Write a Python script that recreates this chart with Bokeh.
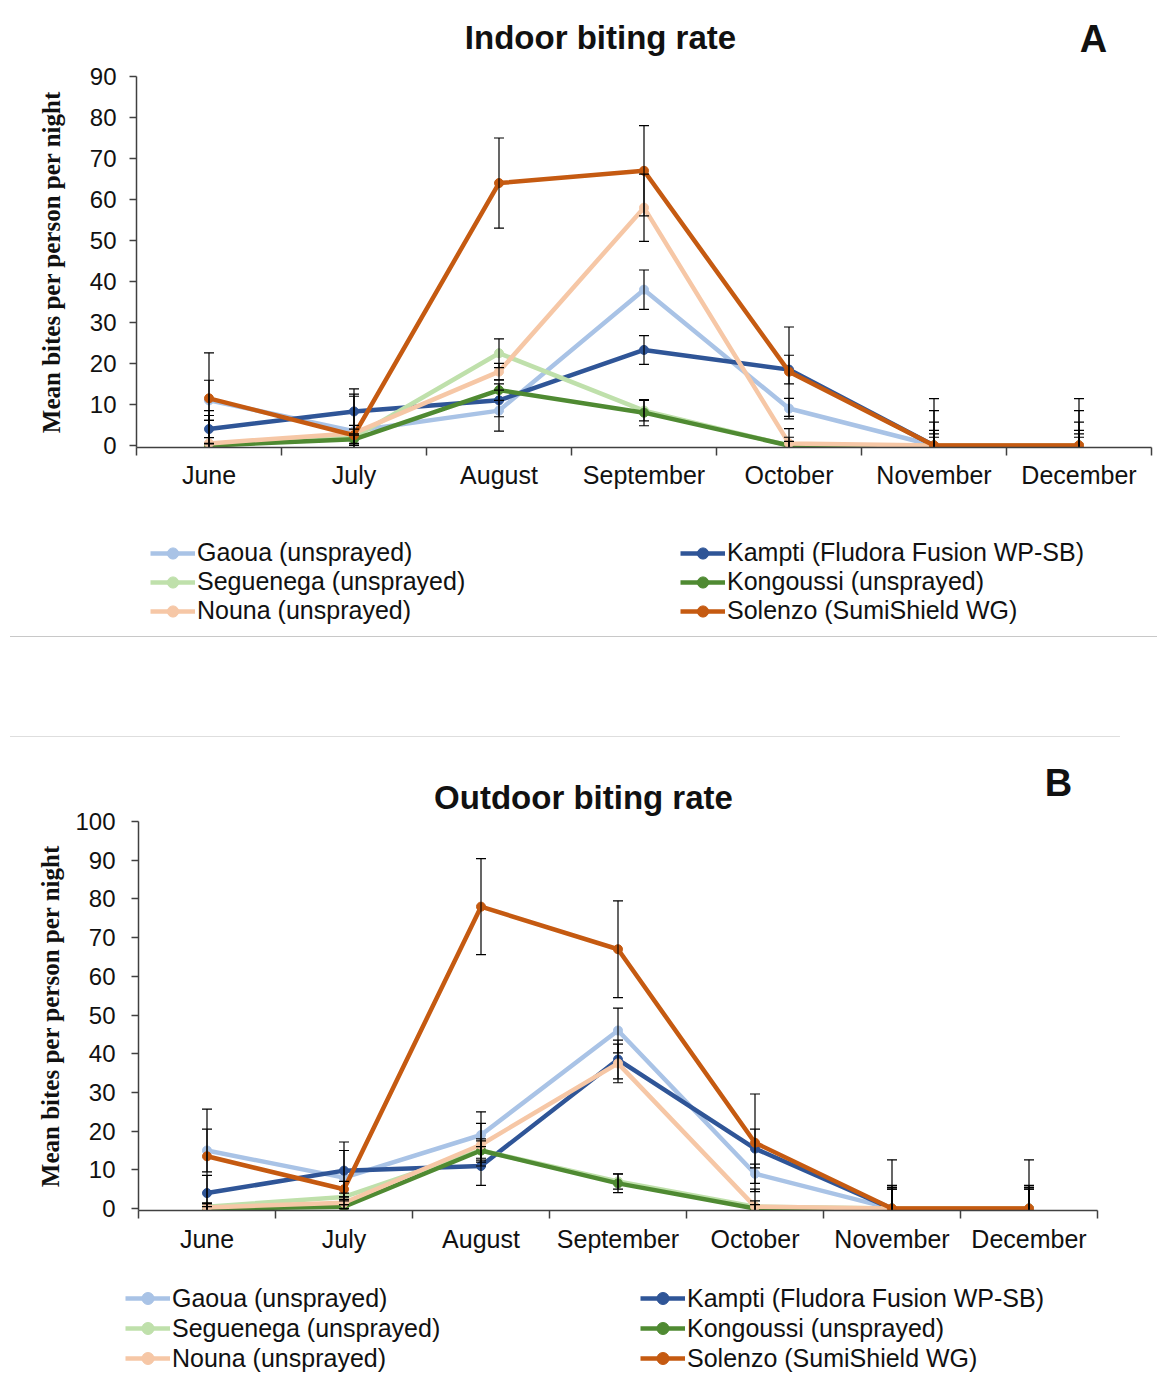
from bokeh.plotting import figure
from bokeh.models import (Range1d, FixedTicker, Legend, LegendItem, Label, Div)
from bokeh.embed import file_html
from bokeh.resources import INLINE

# ---------------- data ----------------
months = ["June", "July", "August", "September", "October", "November", "December"]
series_names = ["Gaoua (unsprayed)", "Kampti (Fludora Fusion WP-SB)",
                "Seguenega (unsprayed)", "Kongoussi (unsprayed)",
                "Nouna (unsprayed)", "Solenzo (SumiShield WG)"]

# Indoor biting rate (panel A)
gaoua_in = [11, 3.5, 8.5, 38, 9, 0, 0]
kampti_in = [4, 8.3, 11, 23.3, 18.5, 0, 0]
seguenega_in = [0, 2, 22.5, 8.5, 0, 0, 0]
kongoussi_in = [0, 1.5, 13.5, 8, 0, 0, 0]
nouna_in = [0.5, 3, 18, 58, 0.5, 0, 0]
solenzo_in = [11.5, 2.5, 64, 67, 18, 0, 0]

gaoua_in_err = [4.9, 8.5, 5, 4.8, 2.5, 2.8, 2.8]
kampti_in_err = [2.1, 5.5, 4, 3.5, 3.5, 3.7, 3.7]
seguenega_in_err = [7.3, 2, 3.5, 2.5, 2, 5.7, 5.7]
kongoussi_in_err = [0.5, 1, 2.5, 3.2, 1, 8.5, 8.5]
nouna_in_err = [8, 9.5, 2, 8.2, 3.6, 2, 2]
solenzo_in_err = [11.1, 2.4, 11, 11, 10.9, 11.4, 11.4]

# Outdoor biting rate (panel B)
gaoua_out = [15, 8, 19, 46, 9, 0, 0]
kampti_out = [4, 9.8, 11, 38.5, 15.5, 0, 0]
seguenega_out = [0.5, 3, 15, 7, 0.5, 0, 0]
kongoussi_out = [0, 0.5, 15, 6.5, 0, 0, 0]
nouna_out = [0.3, 1.5, 16.5, 37.5, 0.5, 0, 0]
solenzo_out = [13.5, 5, 78, 67, 17, 0, 0]

gaoua_out_err = [5.5, 7, 6, 5.8, 2.5, 5.5, 5.5]
kampti_out_err = [4.6, 7.4, 5, 5, 5, 5, 5]
seguenega_out_err = [1, 1, 3, 2, 1.5, 5, 5]
kongoussi_out_err = [0.5, 0.5, 2.5, 2.4, 1, 5.5, 5.5]
nouna_out_err = [1, 1.5, 5.5, 5, 4.5, 6, 6]
solenzo_out_err = [12.2, 2, 12.4, 12.5, 12.6, 12.6, 12.6]

colors = ["#a9c3e6", "#2f5597", "#bfe0ab", "#4f8a32", "#f6c7a6", "#c55a11"]

AXIS_COLOR = "#404040"
LINE_W = 4.5
MARK_SIZE = 9
X = [i + 0.5 for i in range(len(months))]


def blank_figure(height, x_range, y_range):
    p = figure(width=1157, height=height, x_range=x_range, y_range=y_range,
               output_backend="svg", toolbar_location=None, title=None,
               x_axis_location=None, y_axis_location=None,
               min_border_left=0, min_border_right=0, min_border_top=0, min_border_bottom=0)
    p.outline_line_color = None
    p.xgrid.grid_line_color = None
    p.ygrid.grid_line_color = None
    return p


def make_header(title, letter, g):
    h = g["hheight"]
    p = blank_figure(h, Range1d(0, 1157), Range1d(h, 0))
    p.add_layout(Label(x=g["tx"], y=g["ty"], text=title, text_font="Liberation Sans",
                       text_font_size="33px", text_font_style="bold",
                       text_color="#111111", text_align="center", text_baseline="middle"))
    p.add_layout(Label(x=g["lx"], y=g["lyl"], text=letter, text_font="Liberation Sans",
                       text_font_size="38px", text_font_style="bold",
                       text_color="#111111", text_align="center", text_baseline="middle"))
    return p


def make_chart(values, errors, ymax, g):
    p = figure(width=1157, height=g["height"],
               x_range=Range1d(0, len(months)), y_range=Range1d(-0.5, ymax),
               output_backend="svg", toolbar_location=None, title=None,
               min_border_left=g["left"], min_border_right=g["right"],
               min_border_top=g["top"], min_border_bottom=g["bottom"])
    p.outline_line_color = None
    p.xgrid.grid_line_color = None
    p.ygrid.grid_line_color = None
    p.border_fill_alpha = 0
    p.background_fill_alpha = 0

    xa = p.xaxis[0]
    xa.ticker = FixedTicker(ticks=X, minor_ticks=list(range(len(months) + 1)))
    xa.major_label_overrides = {xi: m for xi, m in zip(X, months)}
    xa.major_tick_out = 0
    xa.major_tick_in = 0
    xa.minor_tick_out = 8
    xa.minor_tick_in = 0
    xa.minor_tick_line_color = AXIS_COLOR
    xa.minor_tick_line_width = 1.5
    xa.axis_line_color = AXIS_COLOR
    xa.axis_line_width = 1.5
    xa.major_label_text_font = "Liberation Sans"
    xa.major_label_text_font_size = "25px"
    xa.major_label_text_color = "#111111"
    xa.major_label_standoff = g["xstand"]

    ya = p.yaxis[0]
    ya.ticker = FixedTicker(ticks=list(range(0, ymax + 1, 10)), minor_ticks=[])
    ya.major_tick_out = 7
    ya.major_tick_in = 0
    ya.minor_tick_out = 0
    ya.minor_tick_in = 0
    ya.major_tick_line_color = AXIS_COLOR
    ya.major_tick_line_width = 1.5
    ya.axis_line_color = AXIS_COLOR
    ya.axis_line_width = 1.5
    ya.major_label_text_font = "Liberation Sans"
    ya.major_label_text_font_size = "24px"
    ya.major_label_text_color = "#111111"
    ya.major_label_standoff = g["ystand"]
    ya.axis_label = "Mean bites per person per night"
    ya.axis_label_text_font = "Liberation Serif"
    ya.axis_label_text_font_style = "bold"
    ya.axis_label_text_font_size = "25px"
    ya.axis_label_text_color = "#111111"
    ya.axis_label_standoff = g["lstand"]

    for vals, col in zip(values, colors):
        p.line(X, vals, line_color=col, line_width=LINE_W)
        p.scatter(X, vals, marker="circle", size=MARK_SIZE, fill_color=col, line_color=col)

    for vals, errs in zip(values, errors):
        upper = [v + e for v, e in zip(vals, errs)]
        lower = [v - e for v, e in zip(vals, errs)]
        p.segment(x0=X, y0=lower, x1=X, y1=upper, line_color="black", line_width=1.2)
        p.scatter(X, upper, marker="dash", size=10, line_color="black", line_width=1.2)
        p.scatter(X, lower, marker="dash", size=10, line_color="black", line_width=1.2)

    if g.get("shift"):
        p.styles = {"margin-top": "-%dpx" % g["shift"]}
    return p


def make_legend(values, g):
    # the series are drawn outside this strip's visible range; only the legend shows
    p = blank_figure(g["lheight"], Range1d(-2, -1), Range1d(-2, -1))
    items = []
    for name, vals, col in zip(series_names, values, colors):
        ln = p.line(X, vals, line_color=col, line_width=LINE_W)
        mk = p.scatter(X, vals, marker="circle", size=MARK_SIZE, fill_color=col, line_color=col)
        items.append(LegendItem(label=name, renderers=[ln, mk]))
    ordered = items[0::2] + items[1::2]
    lg = Legend(items=ordered, location=(g["lx1"], g["ly"]), orientation="vertical",
                ncols=2,
                label_text_font="Liberation Sans", label_text_font_size="25px",
                label_text_color="#111111",
                glyph_width=45, glyph_height=g["row"], label_height=g["row"],
                label_width=g["lw"],
                label_standoff=2, spacing=0, padding=0, margin=0,
                border_line_color=None, background_fill_alpha=0)
    p.add_layout(lg, "center")
    return p


geomA = dict(hheight=60, tx=600, ty=37, lx=1093, lyl=38,
             height=450, left=136, right=6, top=16, bottom=63, shift=0,
             xstand=5, ystand=13, lstand=22,
             lheight=126, lx1=150, ly=11, row=28, lw=483)
geomB = dict(hheight=80, tx=583, ty=60, lx=1058, lyl=45,
             height=460, left=138, right=60, top=16, bottom=55, shift=12,
             xstand=6, ystand=16, lstand=8,
             lheight=110, lx1=125, ly=2, row=30, lw=468)

values_in = [gaoua_in, kampti_in, seguenega_in, kongoussi_in, nouna_in, solenzo_in]
errors_in = [gaoua_in_err, kampti_in_err, seguenega_in_err, kongoussi_in_err,
             nouna_in_err, solenzo_in_err]
values_out = [gaoua_out, kampti_out, seguenega_out, kongoussi_out, nouna_out, solenzo_out]
errors_out = [gaoua_out_err, kampti_out_err, seguenega_out_err, kongoussi_out_err,
              nouna_out_err, solenzo_out_err]

hA = make_header("Indoor biting rate", "A", geomA)
pA = make_chart(values_in, errors_in, 90, geomA)
lA = make_legend(values_in, geomA)
hB = make_header("Outdoor biting rate", "B", geomB)
pB = make_chart(values_out, errors_out, 100, geomB)
lB = make_legend(values_out, geomB)

sep = Div(text=('<div style="position:relative;width:1157px;height:101px;">'
                '<div style="position:absolute;left:10px;top:0px;width:1147px;height:1px;background:#c8c8c8;"></div>'
                '<div style="position:absolute;left:10px;top:100px;width:1110px;height:1px;background:#dedede;"></div>'
                '</div>'),
          width=1157, height=101, margin=0)

open("out.html", "w").write(file_html([hA, pA, lA, sep, hB, pB, lB], INLINE))
